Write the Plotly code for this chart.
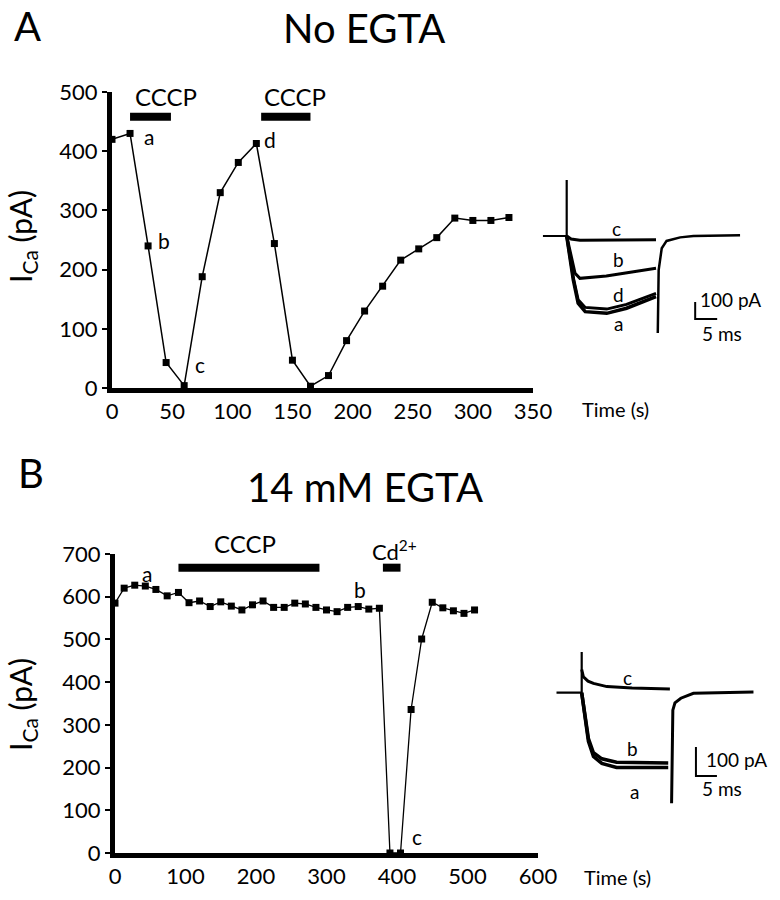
import plotly.graph_objects as go

# ---------------- Panel A: No EGTA ----------------
time_A = [0, 15, 30, 45, 60, 75, 90, 105, 120, 135, 150, 165, 180, 195, 210,
          225, 240, 255, 270, 285, 300, 315, 330]
ica_A = [420, 430, 240, 43, 4, 188, 330, 381, 413, 244, 47, 3, 21, 80, 130,
         172, 216, 235, 254, 287, 283, 283, 288]
cccp_A = [(15, 49), (124, 165)]
cccp_A_level = 458
labels_A = [("a", 31, 424), ("b", 43, 250), ("c", 73, 39), ("d", 131, 419)]

# ---------------- Panel B: 14 mM EGTA ----------------
time_B = [0, 13, 28, 43, 58, 74, 90, 105, 120, 135, 150, 165, 180, 195, 210,
          225, 240, 255, 270, 285, 300, 315, 330, 345, 360, 375, 390, 405,
          420, 435, 450, 465, 480, 495, 510]
ica_B = [585, 620, 627, 625, 617, 602, 610, 586, 590, 577, 588, 578, 569, 581,
         590, 575, 575, 585, 583, 575, 569, 565, 575, 577, 571, 573, 0, 0,
         336, 501, 587, 574, 567, 561, 569]
cccp_B = (90, 290)
cd_B = (380, 405)
bar_B_level = 668
labels_B = [("a", 45, 655), ("b", 347, 616), ("c", 428, 38)]

# ---------------- Inset traces A (ms, pA) ----------------
insA_base_t = [-5.4, 0, 0, 0]
insA_base_i = [0, 0, 330, 0]
insA_c_t = [0, 1, 3, 10, 20.3]
insA_c_i = [0, -18, -25, -24, -22]
insA_b_t = [0, 1.9, 3, 9, 20.3]
insA_b_i = [0, -219, -249, -235, -190]
insA_d_t = [0, 1.5, 2.6, 4.2, 9.1, 13.6, 20.3]
insA_d_i = [0, -245, -375, -420, -430, -402, -338]
insA_a_t = [0, 1.5, 2.6, 4.2, 9.1, 13.6, 20.3]
insA_a_i = [0, -259, -396, -445, -455, -425, -357]
insA_tail_t = [20.7, 20.9, 21.6, 22.7, 25.8, 28.8, 39.4]
insA_tail_i = [-570, -200, -72, -29, -8, 0, 4]
insA_labels = [("c", 11.4, 47), ("b", 11.7, -141), ("d", 11.7, -347), ("a", 11.7, -512)]
scaleA = (29.2, -488)  # origin of scale bar (ms, pA)

# ---------------- Inset traces B (ms, pA) ----------------
insB_base_t = [-6, 0, 0, 0]
insB_base_i = [0, 0, 140, 0]
insB_c_t = [0, 0.4, 1.5, 2.8, 6, 12, 21]
insB_c_i = [80, 55, 40, 32, 21, 16, 13]
insB_b_t = [0, 0.8, 1.6, 2.8, 4.8, 8.3, 20.6]
insB_b_i = [0, -80, -158, -207, -228, -240, -242]
insB_a_t = [0, 0.8, 1.6, 2.8, 4.8, 8.3, 20.6]
insB_a_i = [0, -86, -168, -220, -244, -258, -258]
insB_tail_t = [21.4, 21.7, 22.2, 23.6, 26.6, 40.9]
insB_tail_i = [-381, -60, -35, -19, -2, 2]
insB_labels = [("c", 11, 51), ("b", 12.2, -194), ("a", 12.5, -339)]
scaleB = (27.2, -287)

FONT = "Lato, Liberation Sans, sans-serif"
W, H = 780, 900


def px_x(p):
    return p / W


def px_y(p):
    return 1 - p / H


fig = go.Figure()

# main data traces
fig.add_trace(go.Scatter(x=time_A, y=ica_A, mode="lines+markers", xaxis="x", yaxis="y",
                         line=dict(color="black", width=1.5),
                         marker=dict(symbol="square", size=7, color="black"),
                         cliponaxis=False))
for t0, t1 in cccp_A:
    fig.add_trace(go.Scatter(x=[t0, t1], y=[cccp_A_level, cccp_A_level], mode="lines",
                             xaxis="x", yaxis="y", line=dict(color="black", width=8),
                             cliponaxis=False))

fig.add_trace(go.Scatter(x=time_B, y=ica_B, mode="lines+markers", xaxis="x2", yaxis="y2",
                         line=dict(color="black", width=1.3),
                         marker=dict(symbol="square", size=7, color="black"),
                         cliponaxis=False))
for t0, t1 in (cccp_B, cd_B):
    fig.add_trace(go.Scatter(x=[t0, t1], y=[bar_B_level, bar_B_level], mode="lines",
                             xaxis="x2", yaxis="y2", line=dict(color="black", width=8),
                             cliponaxis=False))

# inset A
for tt, ii, w in [(insA_base_t, insA_base_i, 2.2), (insA_c_t, insA_c_i, 3),
                  (insA_b_t, insA_b_i, 3), (insA_d_t, insA_d_i, 3),
                  (insA_a_t, insA_a_i, 3.5), (insA_tail_t, insA_tail_i, 2.5)]:
    fig.add_trace(go.Scatter(x=tt, y=ii, mode="lines", xaxis="x3", yaxis="y3",
                             line=dict(color="black", width=w), cliponaxis=False))
sx, sy = scaleA
fig.add_trace(go.Scatter(x=[sx, sx, sx + 5], y=[sy + 100, sy, sy], mode="lines",
                         xaxis="x3", yaxis="y3", line=dict(color="black", width=2),
                         cliponaxis=False))

# inset B
for tt, ii, w in [(insB_base_t, insB_base_i, 2.2), (insB_c_t, insB_c_i, 3),
                  (insB_b_t, insB_b_i, 3.5), (insB_a_t, insB_a_i, 3.5),
                  (insB_tail_t, insB_tail_i, 3)]:
    fig.add_trace(go.Scatter(x=tt, y=ii, mode="lines", xaxis="x4", yaxis="y4",
                             line=dict(color="black", width=w), cliponaxis=False))
sx, sy = scaleB
fig.add_trace(go.Scatter(x=[sx, sx, sx + 5], y=[sy + 100, sy, sy], mode="lines",
                         xaxis="x4", yaxis="y4", line=dict(color="black", width=2),
                         cliponaxis=False))

ann = []


def txt(text, x, y, xref, yref, size=20, xanchor="center", yanchor="middle", angle=0):
    ann.append(dict(text=text, x=x, y=y, xref=xref, yref=yref, showarrow=False,
                    font=dict(family=FONT, size=size, color="black"),
                    xanchor=xanchor, yanchor=yanchor, textangle=angle))


for s, x, y in labels_A:
    txt(s, x, y, "x", "y", 21)
txt("CCCP", 44.5, 493, "x", "y", 24)
txt("CCCP", 152, 493, "x", "y", 24)
for s, x, y in labels_B:
    txt(s, x, y, "x2", "y2", 21)
# above the y2 range: use the y2 domain reference (value / 700)
txt("CCCP", 184, 724 / 700, "x2", "y2 domain", 24)
txt("Cd<sup>2+</sup>", 362, 708 / 700, "x2", "y2 domain", 22, xanchor="left")

for s, x, y in insA_labels:
    txt(s, x, y, "x3", "y3", 19)
txt("100 pA", scaleA[0] + 0.6, -376, "x3", "y3", 19, xanchor="left")
txt("5 ms", scaleA[0] + 1.1, -571, "x3", "y3", 19, xanchor="left")
for s, x, y in insB_labels:
    txt(s, x, y, "x4", "y4", 19)
txt("100 pA", scaleB[0] + 2.0, -232, "x4", "y4", 19, xanchor="left")
txt("5 ms", scaleB[0] + 1.0, -329, "x4", "y4", 19, xanchor="left")

# panel letters / titles / axis titles
txt("A", px_x(28), 1.0, "paper", "paper", 40, yanchor="top")
txt("No EGTA", px_x(364), px_y(28), "paper", "paper", 40)
txt("B", px_x(31), px_y(473), "paper", "paper", 40)
txt("14 mM EGTA", px_x(365), px_y(487), "paper", "paper", 40)
txt("I<sub>Ca</sub> (pA)", px_x(22), px_y(237), "paper", "paper", 30, angle=-90)
txt("I<sub>Ca</sub> (pA)", px_x(22), px_y(705), "paper", "paper", 30, angle=-90)
txt("Time (s)", px_x(580), px_y(409), "paper", "paper", 20, xanchor="left")
txt("Time (s)", px_x(582), px_y(877), "paper", "paper", 20, xanchor="left")

axis_common = dict(showline=True, linewidth=5, linecolor="black", showgrid=False,
                   zeroline=False, tickfont=dict(family=FONT, size=22, color="black"),
                   fixedrange=True, automargin=False)

fig.update_layout(
    template="none",
    width=W, height=H, margin=dict(l=0, r=0, t=0, b=0, pad=0), autosize=False,
    paper_bgcolor="white", plot_bgcolor="white", showlegend=False,
    annotations=ann,
    xaxis=dict(domain=[px_x(112), px_x(533)], range=[0, 350], anchor="y",
               tickvals=[0, 50, 100, 150, 200, 250, 300, 350], ticks="", **axis_common),
    yaxis=dict(domain=[px_y(388), px_y(92)], range=[0, 500], anchor="x",
               tickvals=[0, 100, 200, 300, 400, 500], ticks="outside", ticklen=5,
               tickwidth=2, tickcolor="black", **axis_common),
    xaxis2=dict(domain=[px_x(115), px_x(538)], range=[0, 600], anchor="y2",
                tickvals=[0, 100, 200, 300, 400, 500, 600], ticks="", **axis_common),
    yaxis2=dict(domain=[px_y(853), px_y(554)], range=[0, 700], anchor="x2",
                tickvals=[0, 100, 200, 300, 400, 500, 600, 700], ticks="outside",
                ticklen=5, tickwidth=2, tickcolor="black", **axis_common),
    xaxis3=dict(domain=[px_x(540.3), px_x(747.1)], range=[-6, 41], anchor="y3",
                visible=False, fixedrange=True),
    yaxis3=dict(domain=[px_y(338), px_y(176.5)], range=[-600, 350], anchor="x3",
                visible=False, fixedrange=True),
    xaxis4=dict(domain=[px_x(552.3), px_x(758.1)], range=[-7, 42], anchor="y4",
                visible=False, fixedrange=True),
    yaxis4=dict(domain=[px_y(808.7), px_y(649.2)], range=[-400, 150], anchor="x4",
                visible=False, fixedrange=True),
)

fig.write_html("out.html", include_plotlyjs=True,
               config={"displayModeBar": False},
               post_script="document.body.style.margin='0';")
